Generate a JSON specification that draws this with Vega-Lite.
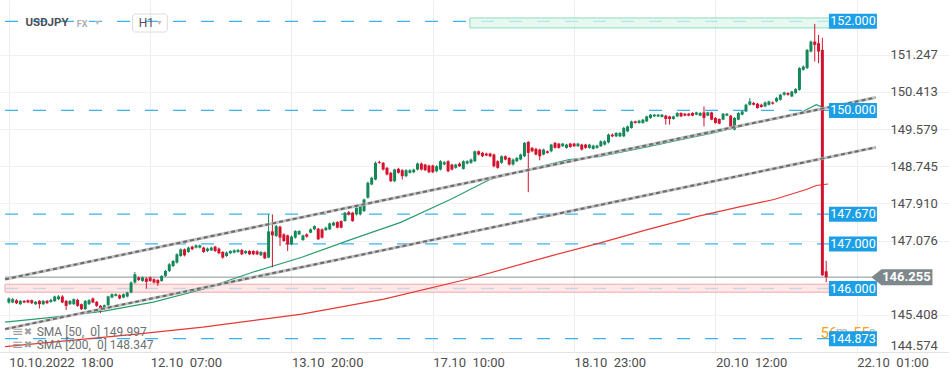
{
"$schema": "https://vega.github.io/schema/vega-lite/v6.json",
"width": 949, "height": 352,
"autosize": {"type": "none"},
"padding": {"left": 0, "top": 0, "right": 0, "bottom": 26},
"background": "white",
"config": {"view": {"stroke": null}, "font": "Roboto"},
"datasets": {
"candles": [
{"i":0,"o":145.686,"h":145.80,"l":145.66,"c":145.776},
{"i":1,"o":145.686,"h":145.79,"l":145.67,"c":145.760},
{"i":2,"o":145.738,"h":145.76,"l":145.65,"c":145.671},
{"i":3,"o":145.648,"h":145.74,"l":145.63,"c":145.722},
{"i":4,"o":145.722,"h":145.74,"l":145.67,"c":145.686},
{"i":5,"o":145.738,"h":145.75,"l":145.67,"c":145.686},
{"i":6,"o":145.738,"h":145.75,"l":145.65,"c":145.671},
{"i":7,"o":145.648,"h":145.72,"l":145.63,"c":145.700},
{"i":8,"o":145.722,"h":145.74,"l":145.552,"c":145.648},
{"i":9,"o":145.648,"h":145.74,"l":145.63,"c":145.722},
{"i":10,"o":145.722,"h":145.74,"l":145.65,"c":145.671},
{"i":11,"o":145.700,"h":145.77,"l":145.68,"c":145.745},
{"i":12,"o":145.716,"h":145.84,"l":145.70,"c":145.821},
{"i":13,"o":145.760,"h":145.85,"l":145.74,"c":145.821},
{"i":14,"o":145.821,"h":145.85,"l":145.67,"c":145.686},
{"i":15,"o":145.722,"h":145.74,"l":145.520,"c":145.610},
{"i":16,"o":145.648,"h":145.74,"l":145.63,"c":145.722},
{"i":17,"o":145.648,"h":145.78,"l":145.63,"c":145.760},
{"i":18,"o":145.745,"h":145.77,"l":145.59,"c":145.610},
{"i":19,"o":145.648,"h":145.66,"l":145.52,"c":145.536},
{"i":20,"o":145.536,"h":145.74,"l":145.52,"c":145.722},
{"i":21,"o":145.648,"h":145.76,"l":145.63,"c":145.738},
{"i":22,"o":145.776,"h":145.80,"l":145.67,"c":145.686},
{"i":23,"o":145.700,"h":145.72,"l":145.59,"c":145.610},
{"i":24,"o":145.610,"h":145.63,"l":145.447,"c":145.536},
{"i":25,"o":145.536,"h":145.64,"l":145.52,"c":145.626},
{"i":26,"o":145.626,"h":145.84,"l":145.61,"c":145.821},
{"i":27,"o":145.798,"h":145.89,"l":145.78,"c":145.872},
{"i":28,"o":145.834,"h":145.89,"l":145.82,"c":145.872},
{"i":29,"o":145.850,"h":145.87,"l":145.76,"c":145.776},
{"i":30,"o":145.798,"h":145.89,"l":145.78,"c":145.872},
{"i":31,"o":145.821,"h":145.93,"l":145.80,"c":145.910},
{"i":32,"o":145.910,"h":146.16,"l":145.89,"c":146.134},
{"i":33,"o":146.134,"h":146.372,"l":146.11,"c":146.320},
{"i":34,"o":146.246,"h":146.27,"l":146.17,"c":146.192},
{"i":35,"o":146.170,"h":146.27,"l":146.15,"c":146.246},
{"i":36,"o":146.224,"h":146.25,"l":146.000,"c":146.148},
{"i":37,"o":146.246,"h":146.27,"l":146.15,"c":146.170},
{"i":38,"o":146.208,"h":146.23,"l":146.11,"c":146.134},
{"i":39,"o":146.192,"h":146.21,"l":146.058,"c":146.118},
{"i":40,"o":146.170,"h":146.30,"l":146.15,"c":146.282},
{"i":41,"o":146.282,"h":146.42,"l":146.26,"c":146.394},
{"i":42,"o":146.394,"h":146.57,"l":146.37,"c":146.544},
{"i":43,"o":146.506,"h":146.64,"l":146.48,"c":146.618},
{"i":44,"o":146.582,"h":146.79,"l":146.56,"c":146.768},
{"i":45,"o":146.730,"h":146.90,"l":146.71,"c":146.880},
{"i":46,"o":146.880,"h":146.90,"l":146.72,"c":146.746},
{"i":47,"o":146.820,"h":146.94,"l":146.80,"c":146.918},
{"i":48,"o":146.940,"h":146.96,"l":146.86,"c":146.880},
{"i":49,"o":146.918,"h":146.99,"l":146.90,"c":146.970},
{"i":50,"o":146.918,"h":146.99,"l":146.90,"c":146.970},
{"i":51,"o":146.918,"h":146.94,"l":146.80,"c":146.820},
{"i":52,"o":146.842,"h":146.92,"l":146.82,"c":146.896},
{"i":53,"o":146.858,"h":146.94,"l":146.84,"c":146.918},
{"i":54,"o":146.940,"h":146.96,"l":146.82,"c":146.842},
{"i":55,"o":146.896,"h":146.92,"l":146.77,"c":146.791},
{"i":56,"o":146.820,"h":146.84,"l":146.67,"c":146.694},
{"i":57,"o":146.730,"h":146.83,"l":146.71,"c":146.806},
{"i":58,"o":146.791,"h":146.86,"l":146.77,"c":146.842},
{"i":59,"o":146.806,"h":146.88,"l":146.79,"c":146.858},
{"i":60,"o":146.820,"h":146.89,"l":146.80,"c":146.864},
{"i":61,"o":146.864,"h":146.89,"l":146.75,"c":146.768},
{"i":62,"o":146.791,"h":146.86,"l":146.77,"c":146.842},
{"i":63,"o":146.842,"h":146.86,"l":146.75,"c":146.768},
{"i":64,"o":146.842,"h":146.86,"l":146.75,"c":146.768},
{"i":65,"o":146.835,"h":146.86,"l":146.75,"c":146.768},
{"i":66,"o":146.746,"h":146.84,"l":146.73,"c":146.820},
{"i":67,"o":146.813,"h":146.83,"l":146.66,"c":146.678},
{"i":68,"o":146.694,"h":147.664,"l":146.68,"c":147.283},
{"i":69,"o":147.283,"h":147.664,"l":146.477,"c":147.193},
{"i":70,"o":147.178,"h":147.43,"l":147.16,"c":147.402},
{"i":71,"o":147.388,"h":147.41,"l":146.954,"c":147.142},
{"i":72,"o":147.216,"h":147.24,"l":147.05,"c":147.066},
{"i":73,"o":147.193,"h":147.21,"l":146.842,"c":146.992},
{"i":74,"o":146.992,"h":147.19,"l":146.97,"c":147.164},
{"i":75,"o":147.142,"h":147.31,"l":147.12,"c":147.290},
{"i":76,"o":147.216,"h":147.31,"l":147.20,"c":147.290},
{"i":77,"o":147.088,"h":147.21,"l":147.07,"c":147.193},
{"i":78,"o":147.216,"h":147.24,"l":147.14,"c":147.164},
{"i":79,"o":147.254,"h":147.35,"l":147.24,"c":147.328},
{"i":80,"o":147.328,"h":147.42,"l":147.31,"c":147.402},
{"i":81,"o":147.343,"h":147.36,"l":147.09,"c":147.104},
{"i":82,"o":147.328,"h":147.35,"l":147.12,"c":147.142},
{"i":83,"o":147.312,"h":147.39,"l":147.29,"c":147.366},
{"i":84,"o":147.328,"h":147.48,"l":147.31,"c":147.462},
{"i":85,"o":147.417,"h":147.50,"l":147.40,"c":147.478},
{"i":86,"o":147.491,"h":147.51,"l":147.35,"c":147.366},
{"i":87,"o":147.514,"h":147.53,"l":147.35,"c":147.366},
{"i":88,"o":147.514,"h":147.72,"l":147.50,"c":147.702},
{"i":89,"o":147.715,"h":147.74,"l":147.64,"c":147.664},
{"i":90,"o":147.702,"h":147.72,"l":147.50,"c":147.514},
{"i":91,"o":147.664,"h":147.84,"l":147.64,"c":147.814},
{"i":92,"o":147.664,"h":147.87,"l":147.64,"c":147.850},
{"i":93,"o":147.738,"h":148.02,"l":147.72,"c":148.000},
{"i":94,"o":148.038,"h":148.40,"l":148.02,"c":148.374},
{"i":95,"o":148.336,"h":148.51,"l":148.32,"c":148.486},
{"i":96,"o":148.448,"h":148.85,"l":148.43,"c":148.822},
{"i":97,"o":148.844,"h":148.87,"l":148.80,"c":148.822},
{"i":98,"o":148.822,"h":148.84,"l":148.65,"c":148.672},
{"i":99,"o":148.710,"h":148.73,"l":148.54,"c":148.560},
{"i":100,"o":148.598,"h":148.62,"l":148.39,"c":148.410},
{"i":101,"o":148.410,"h":148.69,"l":148.39,"c":148.672},
{"i":102,"o":148.687,"h":148.71,"l":148.58,"c":148.598},
{"i":103,"o":148.656,"h":148.68,"l":148.448,"c":148.522},
{"i":104,"o":148.522,"h":148.68,"l":148.50,"c":148.656},
{"i":105,"o":148.598,"h":148.68,"l":148.58,"c":148.656},
{"i":106,"o":148.611,"h":148.69,"l":148.59,"c":148.672},
{"i":107,"o":148.672,"h":148.83,"l":148.65,"c":148.806},
{"i":108,"o":148.806,"h":148.83,"l":148.65,"c":148.672},
{"i":109,"o":148.784,"h":148.80,"l":148.64,"c":148.656},
{"i":110,"o":148.761,"h":148.78,"l":148.59,"c":148.611},
{"i":111,"o":148.761,"h":148.78,"l":148.59,"c":148.611},
{"i":112,"o":148.634,"h":148.77,"l":148.61,"c":148.746},
{"i":113,"o":148.672,"h":148.88,"l":148.65,"c":148.858},
{"i":114,"o":148.784,"h":148.86,"l":148.77,"c":148.835},
{"i":115,"o":148.858,"h":148.88,"l":148.61,"c":148.634},
{"i":116,"o":148.784,"h":148.80,"l":148.65,"c":148.672},
{"i":117,"o":148.710,"h":148.80,"l":148.69,"c":148.784},
{"i":118,"o":148.806,"h":148.83,"l":148.73,"c":148.746},
{"i":119,"o":148.687,"h":148.88,"l":148.67,"c":148.858},
{"i":120,"o":148.806,"h":148.88,"l":148.79,"c":148.858},
{"i":121,"o":148.822,"h":148.92,"l":148.80,"c":148.896},
{"i":122,"o":148.858,"h":149.10,"l":148.84,"c":149.082},
{"i":123,"o":149.082,"h":149.10,"l":148.99,"c":149.008},
{"i":124,"o":149.046,"h":149.07,"l":148.95,"c":148.970},
{"i":125,"o":149.030,"h":149.05,"l":148.97,"c":148.985},
{"i":126,"o":149.030,"h":149.05,"l":148.95,"c":148.970},
{"i":127,"o":149.008,"h":149.03,"l":148.72,"c":148.746},
{"i":128,"o":148.858,"h":148.88,"l":148.69,"c":148.710},
{"i":129,"o":148.822,"h":148.99,"l":148.80,"c":148.970},
{"i":130,"o":148.970,"h":148.99,"l":148.88,"c":148.896},
{"i":131,"o":148.934,"h":148.95,"l":148.76,"c":148.784},
{"i":132,"o":148.784,"h":148.92,"l":148.76,"c":148.896},
{"i":133,"o":148.858,"h":148.95,"l":148.84,"c":148.934},
{"i":134,"o":148.896,"h":149.03,"l":148.88,"c":149.008},
{"i":135,"o":148.970,"h":149.29,"l":148.95,"c":149.270},
{"i":136,"o":149.292,"h":149.31,"l":148.163,"c":149.046},
{"i":137,"o":149.158,"h":149.18,"l":149.06,"c":149.082},
{"i":138,"o":149.135,"h":149.16,"l":148.99,"c":149.008},
{"i":139,"o":149.120,"h":149.14,"l":148.880,"c":148.970},
{"i":140,"o":149.008,"h":149.14,"l":148.99,"c":149.120},
{"i":141,"o":149.082,"h":149.10,"l":149.03,"c":149.046},
{"i":142,"o":149.082,"h":149.25,"l":149.06,"c":149.232},
{"i":143,"o":149.270,"h":149.29,"l":149.14,"c":149.158},
{"i":144,"o":149.254,"h":149.27,"l":149.14,"c":149.158},
{"i":145,"o":149.194,"h":149.27,"l":149.18,"c":149.254},
{"i":146,"o":149.158,"h":149.25,"l":149.14,"c":149.232},
{"i":147,"o":149.254,"h":149.27,"l":149.16,"c":149.180},
{"i":148,"o":149.254,"h":149.27,"l":149.18,"c":149.194},
{"i":149,"o":149.194,"h":149.27,"l":149.18,"c":149.254},
{"i":150,"o":149.232,"h":149.25,"l":149.10,"c":149.120},
{"i":151,"o":149.232,"h":149.25,"l":149.14,"c":149.158},
{"i":152,"o":149.158,"h":149.25,"l":149.14,"c":149.232},
{"i":153,"o":149.135,"h":149.23,"l":149.12,"c":149.209},
{"i":154,"o":149.158,"h":149.23,"l":149.14,"c":149.209},
{"i":155,"o":149.194,"h":149.33,"l":149.18,"c":149.305},
{"i":156,"o":149.232,"h":149.33,"l":149.21,"c":149.305},
{"i":157,"o":149.283,"h":149.48,"l":149.26,"c":149.456},
{"i":158,"o":149.456,"h":149.48,"l":149.40,"c":149.417},
{"i":159,"o":149.417,"h":149.51,"l":149.40,"c":149.494},
{"i":160,"o":149.417,"h":149.51,"l":149.40,"c":149.494},
{"i":161,"o":149.417,"h":149.63,"l":149.40,"c":149.606},
{"i":162,"o":149.529,"h":149.66,"l":149.51,"c":149.641},
{"i":163,"o":149.606,"h":149.77,"l":149.59,"c":149.753},
{"i":164,"o":149.753,"h":149.77,"l":149.70,"c":149.718},
{"i":165,"o":149.718,"h":149.79,"l":149.70,"c":149.769},
{"i":166,"o":149.718,"h":149.81,"l":149.70,"c":149.792},
{"i":167,"o":149.753,"h":149.88,"l":149.74,"c":149.865},
{"i":168,"o":149.830,"h":149.92,"l":149.81,"c":149.904},
{"i":169,"o":149.865,"h":149.92,"l":149.85,"c":149.904},
{"i":170,"o":149.865,"h":149.92,"l":149.85,"c":149.904},
{"i":171,"o":149.852,"h":149.92,"l":149.84,"c":149.904},
{"i":172,"o":149.881,"h":149.90,"l":149.679,"c":149.807},
{"i":173,"o":149.865,"h":149.88,"l":149.679,"c":149.807},
{"i":174,"o":149.807,"h":149.88,"l":149.79,"c":149.865},
{"i":175,"o":149.865,"h":149.96,"l":149.85,"c":149.942},
{"i":176,"o":149.942,"h":149.96,"l":149.85,"c":149.865},
{"i":177,"o":149.926,"h":149.94,"l":149.87,"c":149.881},
{"i":178,"o":149.926,"h":149.94,"l":149.87,"c":149.881},
{"i":179,"o":149.942,"h":149.96,"l":149.87,"c":149.881},
{"i":180,"o":149.904,"h":149.97,"l":149.89,"c":149.955},
{"i":181,"o":149.881,"h":149.96,"l":149.87,"c":149.942},
{"i":182,"o":149.955,"h":150.089,"l":149.641,"c":149.830},
{"i":183,"o":149.881,"h":149.97,"l":149.87,"c":149.955},
{"i":184,"o":149.955,"h":149.97,"l":149.78,"c":149.792},
{"i":185,"o":149.830,"h":149.85,"l":149.70,"c":149.718},
{"i":186,"o":149.807,"h":149.82,"l":149.69,"c":149.702},
{"i":187,"o":149.792,"h":149.94,"l":149.78,"c":149.926},
{"i":188,"o":149.881,"h":149.94,"l":149.87,"c":149.926},
{"i":189,"o":149.881,"h":149.90,"l":149.57,"c":149.583},
{"i":190,"o":149.568,"h":149.85,"l":149.55,"c":149.830},
{"i":191,"o":149.792,"h":149.96,"l":149.78,"c":149.942},
{"i":192,"o":149.904,"h":150.00,"l":149.89,"c":149.977},
{"i":193,"o":149.977,"h":150.15,"l":149.96,"c":150.127},
{"i":194,"o":150.127,"h":150.277,"l":150.11,"c":150.201},
{"i":195,"o":150.166,"h":150.19,"l":150.11,"c":150.127},
{"i":196,"o":150.150,"h":150.17,"l":150.04,"c":150.054},
{"i":197,"o":150.127,"h":150.15,"l":150.06,"c":150.076},
{"i":198,"o":150.089,"h":150.20,"l":150.07,"c":150.179},
{"i":199,"o":150.127,"h":150.22,"l":150.11,"c":150.201},
{"i":200,"o":150.179,"h":150.20,"l":150.13,"c":150.150},
{"i":201,"o":150.201,"h":150.30,"l":150.18,"c":150.277},
{"i":202,"o":150.239,"h":150.37,"l":150.22,"c":150.351},
{"i":203,"o":150.351,"h":150.42,"l":150.33,"c":150.403},
{"i":204,"o":150.389,"h":150.41,"l":150.33,"c":150.351},
{"i":205,"o":150.313,"h":150.44,"l":150.30,"c":150.425},
{"i":206,"o":150.389,"h":150.50,"l":150.37,"c":150.479},
{"i":207,"o":150.463,"h":150.97,"l":150.44,"c":150.949},
{"i":208,"o":150.911,"h":151.01,"l":150.89,"c":150.985},
{"i":209,"o":150.949,"h":151.38,"l":150.93,"c":151.359},
{"i":210,"o":151.321,"h":151.57,"l":151.30,"c":151.545},
{"i":211,"o":151.545,"h":151.942,"l":151.097,"c":151.471},
{"i":212,"o":151.509,"h":151.695,"l":151.061,"c":151.321},
{"i":213,"o":151.359,"h":151.628,"l":146.28,"c":146.298},
{"i":214,"o":146.387,"h":146.62,"l":146.141,"c":146.255}
],
"levels": [
{"p":152.000,"label":"152.000"},
{"p":150.000,"label":"150.000"},
{"p":147.670,"label":"147.670"},
{"p":147.000,"label":"147.000"},
{"p":146.000,"label":"146.000"},
{"p":144.873,"label":"144.873"}
],
"sma": [
{"s":"SMA 50","i":-1.0,"v":145.245},
{"s":"SMA 50","i":11.9,"v":145.357},
{"s":"SMA 50","i":24.9,"v":145.491},
{"s":"SMA 50","i":37.8,"v":145.693},
{"s":"SMA 50","i":50.8,"v":145.984},
{"s":"SMA 50","i":63.8,"v":146.365},
{"s":"SMA 50","i":76.7,"v":146.701},
{"s":"SMA 50","i":89.7,"v":147.104},
{"s":"SMA 50","i":102.6,"v":147.485},
{"s":"SMA 50","i":115.6,"v":148.000},
{"s":"SMA 50","i":125.9,"v":148.448},
{"s":"SMA 50","i":135.8,"v":148.672},
{"s":"SMA 50","i":146.7,"v":148.896},
{"s":"SMA 50","i":154.4,"v":148.963},
{"s":"SMA 50","i":167.4,"v":149.187},
{"s":"SMA 50","i":175.9,"v":149.344},
{"s":"SMA 50","i":184.7,"v":149.500},
{"s":"SMA 50","i":193.3,"v":149.679},
{"s":"SMA 50","i":201.1,"v":149.814},
{"s":"SMA 50","i":206.2,"v":149.904},
{"s":"SMA 50","i":208.8,"v":150.015},
{"s":"SMA 50","i":211.4,"v":150.127},
{"s":"SMA 50","i":214.0,"v":150.040},
{"s":"SMA 200","i":-1.0,"v":144.696},
{"s":"SMA 200","i":33.4,"v":144.976},
{"s":"SMA 200","i":50.8,"v":145.133},
{"s":"SMA 200","i":76.7,"v":145.424},
{"s":"SMA 200","i":98.2,"v":145.760},
{"s":"SMA 200","i":120.0,"v":146.208},
{"s":"SMA 200","i":141.5,"v":146.723},
{"s":"SMA 200","i":154.4,"v":147.014},
{"s":"SMA 200","i":167.4,"v":147.328},
{"s":"SMA 200","i":180.3,"v":147.619},
{"s":"SMA 200","i":190.7,"v":147.821},
{"s":"SMA 200","i":200.3,"v":147.999},
{"s":"SMA 200","i":208.8,"v":148.224},
{"s":"SMA 200","i":211.4,"v":148.313},
{"s":"SMA 200","i":214.5,"v":148.347}
],
"chan": [
{"ln":"upper","i":-1.01,"v":146.208},
{"ln":"upper","i":226.97,"v":150.289},
{"ln":"lower","i":-1.01,"v":145.088},
{"ln":"lower","i":226.97,"v":149.169}
],
"zones": [
{"z":"resistance","i1":120.7,"i2":217.9,"p1":152.076,"p2":151.852},
{"z":"support","i1":-1.01,"i2":214.8,"p1":146.096,"p2":145.917}
]
},
"layer": [
{
"data": {"name": "levels"},
"mark": {"type": "rule", "color": "#3cb1ee", "strokeWidth": 1.3, "strokeDash": [13, 15]},
"encoding": {
"y": {"field": "p", "type": "quantitative",
"scale": {"domain": [144.574, 152.479], "nice": false, "zero": false},
"axis": {"orient": "right", "offset": -59, "values": [144.574, 145.408, 147.076, 147.910, 148.745, 149.579, 150.413, 151.247], "format": ".3f", "title": null, "domain": false, "ticks": false, "tickSize": 0, "labelPadding": 0, "labelFlush": true, "labelFontSize": 13, "labelColor": "#4d4d4d", "labelFont": "Roboto", "grid": true, "gridColor": "#f1f1f1"}},
"x": {"datum": -1.01, "type": "quantitative",
"scale": {"domain": [-1.0104, 244.845], "nice": false, "zero": false},
"axis": {"values": [0, 37, 74, 111, 148, 185, 222], "title": null, "ticks": false, "labelAlign": "left", "labelPadding": 4, "labelFontSize": 13, "labelColor": "#4d4d4d", "labelFont": "Roboto", "labelOverlap": false, "labelBound": false, "labelFlush": false, "grid": true, "gridColor": "#ececec", "domainColor": "#e3e3e3",
"labelExpr": "datum.value < 1 ? '10.10.2022 \u00a018:00' : datum.value < 38 ? '12.10 \u00a007:00' : datum.value < 75 ? '13.10 \u00a020:00' : datum.value < 112 ? '17.10 \u00a010:00' : datum.value < 149 ? '18.10 \u00a023:00' : datum.value < 186 ? '20.10 \u00a012:00' : '22.10 \u00a001:00'"}},
"x2": {"datum": 215.5}
}
},
{
"data": {"name": "zones"},
"mark": {"type": "rect", "strokeWidth": 1, "fillOpacity": 0.75},
"encoding": {
"x": {"field": "i1", "type": "quantitative"},
"x2": {"field": "i2"},
"y": {"field": "p1", "type": "quantitative"},
"y2": {"field": "p2"},
"fill": {"field": "z", "type": "nominal", "scale": {"domain": ["resistance", "support"], "range": ["#dff5ec", "#fde0e0"]}, "legend": null},
"stroke": {"field": "z", "type": "nominal", "scale": {"domain": ["resistance", "support"], "range": ["#8fdcbc", "#f3a8a8"]}, "legend": null}
}
},
{
"data": {"values": [{}]},
"mark": {"type": "rule", "color": "#8b9296", "strokeWidth": 1},
"encoding": {
"y": {"datum": 146.255, "type": "quantitative"},
"x": {"datum": -1.01, "type": "quantitative"},
"x2": {"datum": 227.0}
}
},
{
"data": {"name": "sma"},
"mark": {"type": "line", "strokeWidth": 1.2},
"encoding": {
"x": {"field": "i", "type": "quantitative"},
"y": {"field": "v", "type": "quantitative"},
"color": {"field": "s", "type": "nominal", "scale": {"domain": ["SMA 50", "SMA 200"], "range": ["#2a9d6e", "#e53935"]}, "legend": null},
"detail": {"field": "s"}
}
},
{
"data": {"name": "candles"},
"mark": {"type": "rule", "strokeWidth": 1},
"encoding": {
"x": {"field": "i", "type": "quantitative"},
"y": {"field": "h", "type": "quantitative"},
"y2": {"field": "l"},
"color": {"condition": {"test": "datum.c >= datum.o", "value": "#15885a"}, "value": "#d3132d"}
}
},
{
"data": {"name": "candles"},
"mark": {"type": "bar", "size": 3},
"encoding": {
"x": {"field": "i", "type": "quantitative"},
"y": {"field": "o", "type": "quantitative"},
"y2": {"field": "c"},
"color": {"condition": {"test": "datum.c >= datum.o", "value": "#15885a"}, "value": "#d3132d"}
}
},
{
"data": {"name": "chan"},
"mark": {"type": "line", "color": "#c2c2c2", "strokeWidth": 3},
"encoding": {
"x": {"field": "i", "type": "quantitative"},
"y": {"field": "v", "type": "quantitative"},
"detail": {"field": "ln"}
}
},
{
"data": {"name": "chan"},
"mark": {"type": "line", "color": "#6a6a6a", "strokeWidth": 2, "strokeDash": [4, 3]},
"encoding": {
"x": {"field": "i", "type": "quantitative"},
"y": {"field": "v", "type": "quantitative"},
"detail": {"field": "ln"}
}
},
{
"data": {"values": [{}]},
"mark": {"type": "text", "text": "56", "fontSize": 15, "color": "#f5a020", "align": "left", "baseline": "middle"},
"encoding": {"x": {"datum": 212.5, "type": "quantitative"}, "y": {"datum": 145.001, "type": "quantitative"}}
},
{
"data": {"values": [{}]},
"mark": {"type": "text", "text": "m", "fontSize": 14, "color": "#b5b5b5", "align": "left", "baseline": "middle"},
"encoding": {"x": {"datum": 216.5, "type": "quantitative"}, "y": {"datum": 145.001, "type": "quantitative"}}
},
{
"data": {"values": [{}]},
"mark": {"type": "text", "text": "55", "fontSize": 15, "color": "#f5a020", "align": "left", "baseline": "middle"},
"encoding": {"x": {"datum": 221.0, "type": "quantitative"}, "y": {"datum": 145.001, "type": "quantitative"}}
},
{
"data": {"values": [{}]},
"mark": {"type": "text", "text": "s", "fontSize": 14, "color": "#b5b5b5", "align": "left", "baseline": "middle"},
"encoding": {"x": {"datum": 225.1, "type": "quantitative"}, "y": {"datum": 145.001, "type": "quantitative"}}
},
{
"data": {"name": "levels"},
"mark": {"type": "point", "shape": "M-1,-0.3125H1V0.3125H-1Z", "size": 2304, "filled": true, "opacity": 1, "color": "#1c9fe6", "strokeWidth": 0},
"encoding": {
"x": {"datum": 221.0, "type": "quantitative"},
"y": {"field": "p", "type": "quantitative"}
}
},
{
"data": {"name": "levels"},
"mark": {"type": "text", "color": "white", "fontSize": 12.5, "align": "center", "baseline": "middle"},
"encoding": {
"x": {"datum": 221.0, "type": "quantitative"},
"y": {"field": "p", "type": "quantitative"},
"text": {"field": "label"}
}
},
{
"data": {"values": [{}]},
"mark": {"type": "point", "shape": "M-1,0L-0.672,-0.262H1V0.262H-0.672Z", "size": 3721, "filled": true, "opacity": 1, "color": "#7e878c", "strokeWidth": 0},
"encoding": {"x": {"datum": 233.83, "type": "quantitative"}, "y": {"datum": 146.255, "type": "quantitative"}}
},
{
"data": {"values": [{}]},
"mark": {"type": "text", "text": "146.255", "color": "white", "fontSize": 13, "fontWeight": "bold", "align": "center", "baseline": "middle"},
"encoding": {"x": {"datum": 235.0, "type": "quantitative"}, "y": {"datum": 146.255, "type": "quantitative"}}
},
{
"data": {"values": [{}]},
"mark": {"type": "text", "text": "USDJPY", "fontSize": 11.5, "fontWeight": "bold", "color": "#4a5057", "align": "left", "baseline": "middle"},
"encoding": {"x": {"datum": 4.35, "type": "quantitative"}, "y": {"datum": 151.962, "type": "quantitative"}}
},
{
"data": {"values": [{}]},
"mark": {"type": "text", "text": "FX", "fontSize": 9, "fontWeight": "bold", "color": "#a9afb5", "align": "left", "baseline": "middle"},
"encoding": {"x": {"datum": 17.8, "type": "quantitative"}, "y": {"datum": 151.94, "type": "quantitative"}}
},
{
"data": {"values": [{}]},
"mark": {"type": "point", "shape": "triangle-down", "size": 22, "filled": true, "opacity": 1, "color": "#b9bec2"},
"encoding": {"x": {"datum": 23.2, "type": "quantitative"}, "y": {"datum": 151.962, "type": "quantitative"}}
},
{
"data": {"values": [{}]},
"mark": {"type": "rect", "filled": false, "stroke": "#d9dcdf", "strokeWidth": 1, "cornerRadius": 3},
"encoding": {"x": {"datum": 32.4, "type": "quantitative"}, "x2": {"datum": 41.5}, "y": {"datum": 152.165, "type": "quantitative"}, "y2": {"datum": 151.760}}
},
{
"data": {"values": [{}]},
"mark": {"type": "text", "text": "H1", "fontSize": 12, "color": "#555555", "align": "left", "baseline": "middle"},
"encoding": {"x": {"datum": 34.0, "type": "quantitative"}, "y": {"datum": 151.962, "type": "quantitative"}}
},
{
"data": {"values": [{}]},
"mark": {"type": "point", "shape": "triangle-down", "size": 22, "filled": true, "opacity": 1, "color": "#b9bec2"},
"encoding": {"x": {"datum": 39.4, "type": "quantitative"}, "y": {"datum": 151.962, "type": "quantitative"}}
},
{
"data": {"values": [{}]},
"mark": {"type": "text", "text": "≡", "font": "DejaVu Sans", "fontSize": 14, "color": "#a0a0a0", "align": "left", "baseline": "middle"},
"encoding": {"x": {"datum": 0.8, "type": "quantitative"}, "y": {"datum": 145.023, "type": "quantitative"}}
},
{
"data": {"values": [{}]},
"mark": {"type": "text", "text": "✖", "font": "DejaVu Sans", "fontSize": 10, "color": "#a0a0a0", "align": "left", "baseline": "middle"},
"encoding": {"x": {"datum": 3.9, "type": "quantitative"}, "y": {"datum": 145.023, "type": "quantitative"}}
},
{
"data": {"values": [{}]},
"mark": {"type": "text", "text": "SMA [50, \u00a00] 149.997", "fontSize": 12, "color": "#707070", "align": "left", "baseline": "middle"},
"encoding": {"x": {"datum": 7.28, "type": "quantitative"}, "y": {"datum": 145.023, "type": "quantitative"}}
},
{
"data": {"values": [{}]},
"mark": {"type": "text", "text": "≡", "font": "DejaVu Sans", "fontSize": 14, "color": "#a0a0a0", "align": "left", "baseline": "middle"},
"encoding": {"x": {"datum": 0.8, "type": "quantitative"}, "y": {"datum": 144.731, "type": "quantitative"}}
},
{
"data": {"values": [{}]},
"mark": {"type": "text", "text": "✖", "font": "DejaVu Sans", "fontSize": 10, "color": "#a0a0a0", "align": "left", "baseline": "middle"},
"encoding": {"x": {"datum": 3.9, "type": "quantitative"}, "y": {"datum": 144.731, "type": "quantitative"}}
},
{
"data": {"values": [{}]},
"mark": {"type": "text", "text": "SMA [200, \u00a00] 148.347", "fontSize": 12, "color": "#707070", "align": "left", "baseline": "middle"},
"encoding": {"x": {"datum": 7.28, "type": "quantitative"}, "y": {"datum": 144.731, "type": "quantitative"}}
}
]
}
